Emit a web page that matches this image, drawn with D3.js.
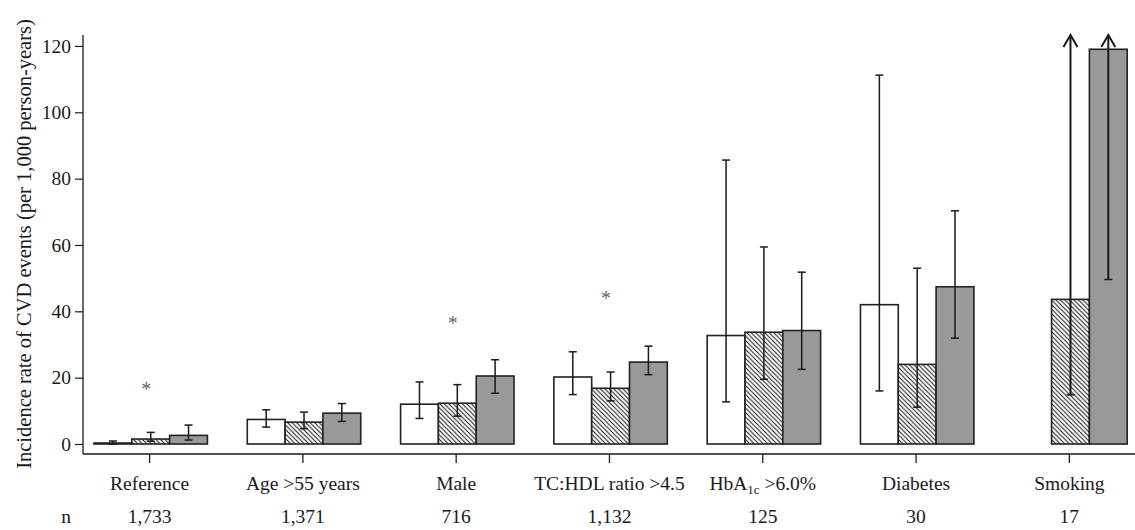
<!DOCTYPE html>
<html><head><meta charset="utf-8">
<script src="https://cdn.jsdelivr.net/npm/d3@7"></script>
<style>
html,body{margin:0;padding:0;background:#fff;}
svg text{font-family:"Liberation Serif","Times New Roman",serif;fill:#1a1a1a;}
</style></head>
<body>
<svg id="chart" width="1135" height="530"></svg>
<script>
// ---- data ----
const categories = ["Reference","Age >55 years","Male","TC:HDL ratio >4.5","HbA1c >6.0%","Diabetes","Smoking"];
const nLabels = ["1,733","1,371","716","1,132","125","30","17"];
const seriesNames = ["white","hatched","gray"];
const whiteVals = [0.3, 7.4, 12.0, 20.2, 32.7, 42.0, null];
const whiteLo   = [0.0, 5.1, 7.7, 14.9, 12.7, 16.0, null];
const whiteHi   = [0.9, 10.3, 18.7, 27.8, 85.6, 111.2, null];
const hatchVals = [1.5, 6.6, 12.3, 16.8, 33.7, 24.0, 43.6];
const hatchLo   = [0.8, 4.6, 8.4, 13.0, 19.5, 11.1, 14.8];
const hatchHi   = [3.5, 9.6, 17.9, 21.7, 59.4, 53.0, Infinity];
const grayVals  = [2.6, 9.3, 20.5, 24.7, 34.2, 47.4, 119.0];
const grayLo    = [1.2, 6.8, 15.3, 20.9, 22.5, 31.9, 49.6];
const grayHi    = [5.7, 12.2, 25.4, 29.5, 51.8, 70.3, Infinity];
const starCats  = ["Reference","Male","TC:HDL ratio >4.5"];
const starVals  = [17.5, 37.4, 44.9];
const yTicks    = [0, 20, 40, 60, 80, 100, 120];
const yLabel    = "Incidence rate of CVD events (per 1,000 person-years)";

// ---- layout ----
const FS = "19.5px";
const svg = d3.select("#chart");
const axisX = 83, axisBottomY = 454, axisTop = 35;
const y = d3.scaleLinear().domain([0, 123.3]).range([444, axisTop]);
const x = d3.scaleBand().domain(categories).range([94, 1127.2]).paddingInner(0.26).paddingOuter(0);
const bw = x.bandwidth();
const xs = d3.scaleBand().domain(seriesNames).range([0, bw]);
const tickX = c => x(c) + bw * 0.49;
const starX = c => x(c) + bw * 0.46;

// hatch pattern
const defs = svg.append("defs");
const pat = defs.append("pattern").attr("id","hatch").attr("patternUnits","userSpaceOnUse")
  .attr("width",4.5).attr("height",4.5);
pat.append("rect").attr("width",4.5).attr("height",4.5).attr("fill","#fff");
pat.append("path").attr("d","M0,0 L4.5,4.5 M-1,3.5 L1,5.5 M3.5,-1 L5.5,1")
  .attr("stroke","#111").attr("stroke-width",1);

const fills = {white:"#fff", hatched:"url(#hatch)", gray:"#999"};
const series = [
  {name:"white", v:whiteVals, lo:whiteLo, hi:whiteHi},
  {name:"hatched", v:hatchVals, lo:hatchLo, hi:hatchHi},
  {name:"gray", v:grayVals, lo:grayLo, hi:grayHi}
];

const recs = [];
series.forEach(s => categories.forEach((c,i) => {
  if (s.v[i] == null) return;
  recs.push({cat:c, s:s.name, v:s.v[i], lo:s.lo[i], hi:s.hi[i]});
}));

// bars
svg.append("g").selectAll("rect").data(recs).join("rect")
  .attr("x", d => x(d.cat) + xs(d.s))
  .attr("y", d => y(d.v))
  .attr("width", xs.bandwidth())
  .attr("height", d => y(0) - y(d.v))
  .attr("fill", d => fills[d.s])
  .attr("stroke", "#222").attr("stroke-width", 1.6);

// error bars
const eg = svg.append("g").attr("stroke","#1a1a1a").attr("stroke-width",1.5).attr("fill","none");
recs.forEach(d => {
  const cx = x(d.cat) + xs(d.s) + xs.bandwidth()/2;
  const open = !isFinite(d.hi);
  const yHi = open ? y.range()[1] : y(d.hi);
  const yLo = y(d.lo);
  eg.append("line").attr("x1",cx).attr("x2",cx).attr("y1",yLo).attr("y2",yHi)
    .attr("stroke-width", open ? 2 : 1.5);
  eg.append("line").attr("x1",cx-4).attr("x2",cx+4).attr("y1",yLo).attr("y2",yLo);
  if (open) {
    eg.append("path").attr("d",`M${cx-7},${yHi+12} L${cx},${yHi} L${cx+7},${yHi+12}`).attr("stroke-width",2);
  } else {
    eg.append("line").attr("x1",cx-4).attr("x2",cx+4).attr("y1",yHi).attr("y2",yHi);
  }
});

// stars
svg.append("g").selectAll("text").data(starCats).join("text")
  .attr("x", c => starX(c)).attr("y", (c,i) => y(starVals[i]) + 10)
  .attr("text-anchor","middle").style("font-size","20px").style("fill","#666")
  .text("*");

// y axis
const yAxis = d3.axisLeft(y).tickValues(yTicks).tickSize(8).tickPadding(4);
const ya = svg.append("g").attr("transform",`translate(${axisX},0)`).call(yAxis);
ya.select(".domain").remove();
ya.selectAll("line").attr("stroke","#1a1a1a").attr("stroke-width",1.2);
ya.selectAll("text").style("font-size",FS).style("font-family","Liberation Serif, serif").attr("fill","#1a1a1a");

// frame lines
svg.append("line").attr("x1",axisX).attr("x2",axisX).attr("y1",axisTop).attr("y2",axisBottomY)
  .attr("stroke","#1a1a1a").attr("stroke-width",1.3);
svg.append("line").attr("x1",axisX).attr("x2",1135).attr("y1",axisBottomY).attr("y2",axisBottomY)
  .attr("stroke","#1a1a1a").attr("stroke-width",1.3);

// x ticks and labels
const xt = svg.append("g");
categories.forEach((c,i) => {
  const tx = tickX(c);
  xt.append("line").attr("x1",tx).attr("x2",tx).attr("y1",axisBottomY).attr("y2",axisBottomY+9)
    .attr("stroke","#1a1a1a").attr("stroke-width",1.3);
  const t = xt.append("text").attr("x",tx).attr("y",490).attr("text-anchor","middle").style("font-size",FS);
  if (c.startsWith("HbA1c")) {
    t.append("tspan").text("HbA");
    t.append("tspan").attr("dy",4).style("font-size","13px").text("1c");
    t.append("tspan").attr("dy",-4).text(" >6.0%");
  } else {
    t.text(c);
  }
  xt.append("text").attr("x",tx).attr("y",523).attr("text-anchor","middle").style("font-size",FS).text(nLabels[i]);
});
svg.append("text").attr("x",66).attr("y",523).attr("text-anchor","middle").style("font-size",FS).text("n");

// y label
svg.append("text").attr("transform","translate(31,244) rotate(-90)")
  .attr("text-anchor","middle").style("font-size","20.5px").text(yLabel);
</script>
</body></html>
